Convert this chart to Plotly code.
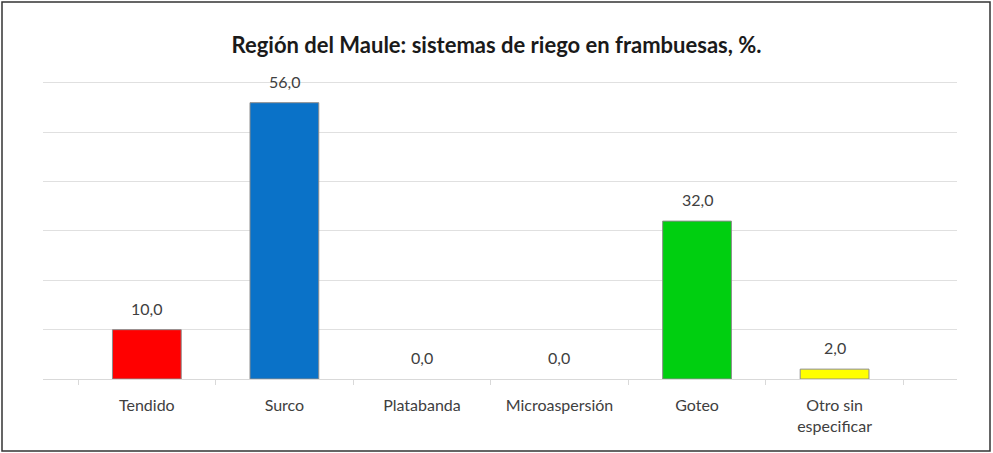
import plotly.graph_objects as go

categories = ["Tendido", "Surco", "Platabanda", "Microaspersión", "Goteo", "Otro sin<br>especificar"]
values = [10.0, 56.0, 0.0, 0.0, 32.0, 2.0]
colors = ["#ff0000", "#0a72c8", "#e0e0e0", "#e0e0e0", "#00cf10", "#ffff00"]
title = "Región del Maule: sistemas de riego en frambuesas, %."

W, H = 993, 453
L, R, T, B = 43, 36, 80, 74
pw, ph = W - L - R, H - T - B

fig = go.Figure()
fig.add_trace(go.Bar(
    x=categories, y=values, width=0.5,
    marker=dict(color=[c if v > 0 else "rgba(0,0,0,0)" for c, v in zip(colors, values)],
                line=dict(color="#8c8c8c", width=[1 if v > 0 else 0 for v in values])),
    hoverinfo="skip", showlegend=False,
))
for c, v in zip(categories, values):
    fig.add_annotation(x=c, y=v, text=f"{v:.1f}".replace(".", ","), showarrow=False,
                       yanchor="bottom", yshift=10,
                       font=dict(family="Lato, Open Sans, sans-serif", size=16, color="#404040"))

fig.update_layout(
    width=W, height=H,
    margin=dict(l=L, r=R, t=T, b=B),
    paper_bgcolor="white", plot_bgcolor="white",
    title=dict(text="<b>" + title + "</b>", x=0.5, xanchor="center", y=1 - 45 / H, yanchor="middle",
               font=dict(family="Lato, Open Sans, sans-serif", size=22, color="#1a1a1a")),
    xaxis=dict(range=[-0.755, 5.89], tickson="boundaries", ticks="outside", ticklen=5,
               tickcolor="#d9d9d9", showline=True, linecolor="#d9d9d9", showgrid=False,
               ticklabelstandoff=12,
               tickfont=dict(family="Lato, Open Sans, sans-serif", size=16, color="#404040"),
               fixedrange=True),
    yaxis=dict(range=[0, 60.6], dtick=10, showgrid=True, gridcolor="#e0e0e0", gridwidth=1,
               showticklabels=False, zeroline=False, fixedrange=True),
    shapes=[dict(type="rect", xref="paper", yref="paper",
                 x0=(2 - L) / pw, x1=(990 - L) / pw,
                 y0=-(451 - (T + ph)) / ph, y1=1 + (T - 2) / ph,
                 line=dict(color="#333333", width=1.5))],
)
fig.write_html("out.html", config={"displayModeBar": False},
               post_script="document.body.style.margin='0';document.body.style.overflow='hidden';")
